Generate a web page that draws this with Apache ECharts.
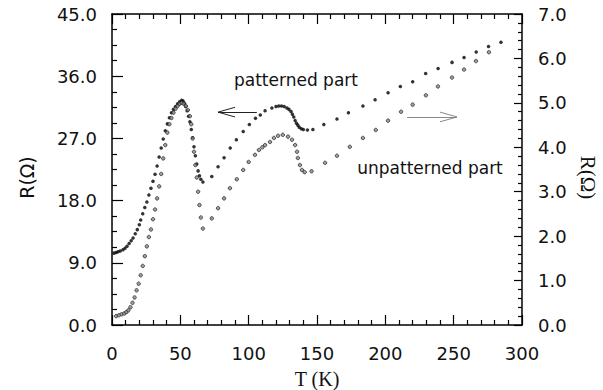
<!DOCTYPE html>
<html>
<head>
<meta charset="utf-8">
<script src="https://cdn.jsdelivr.net/npm/echarts@6/dist/echarts.min.js"></script>
<style>
  html, body { margin: 0; padding: 0; background: #fff; }
  #chart { width: 603px; height: 390px; }
</style>
</head>
<body>
<div id="chart"></div>
<script>
// [T (K), R (ohm)]
// patterned part -> left axis (0..45)
const patterned = [
	[1.5, 10.4], [3, 10.5], [4.4, 10.6], [6, 10.7], [8, 10.9], [9.5, 11.1], [11, 11.4],
	[12.5, 11.8], [14, 12.2], [15.4, 12.6], [17, 13.2], [18.5, 13.8], [20, 14.5], [21, 15.2],
	[22.5, 16.1], [24, 17], [25.5, 17.8], [27, 18.8], [28.5, 19.8], [30, 20.8], [31.5, 21.8],
	[33, 23], [34.5, 24.3], [36, 25.6], [37.5, 26.9], [39, 28.1], [40.5, 29.1], [42, 30],
	[43.5, 30.7], [45, 31.2], [46.5, 31.6], [48, 32], [49.5, 32.3], [51, 32.5], [52, 32.4],
	[53, 32.1], [54, 31.6], [55, 31], [56, 30.2], [57, 29.4], [58, 28.3], [59, 27.1], [60, 25.8],
	[61, 24.5], [62, 23.3], [63, 22.3], [64, 21.6], [65, 21.1], [66.5, 20.7],
	[73, 21.5], [77.6, 22.9], [82, 24.2], [86.5, 25.6], [91, 26.8], [96, 28], [100.5, 29],
	[105, 29.9], [108.5, 30.4], [112, 31], [117, 31.4], [120, 31.6], [122, 31.7], [124, 31.7],
	[126, 31.6], [128, 31.4], [129.5, 31.2], [131, 30.9], [132, 30.5], [133, 30.1], [134, 29.6],
	[135, 29.2], [136, 28.9], [137, 28.6], [138.5, 28.4], [140, 28.3], [143, 28.2], [147, 28.3],
	[155, 29], [164.6, 29.8], [173, 30.7], [183.6, 31.7], [192.5, 32.6], [202, 33.6], [211, 34.5],
	[220, 35.2], [229.5, 36.4], [238.6, 37.1], [248.8, 38], [257.6, 38.7], [266.5, 39.5],
	[275.5, 40.3], [284.6, 40.9]
]

// unpatterned part -> right axis (0..7)
const unpatterned = [
	[3, 0.2], [5, 0.22], [7, 0.24], [9, 0.26], [10.5, 0.29], [12, 0.33], [13.5, 0.4], [15, 0.5],
	[16.5, 0.62], [18, 0.78], [19.5, 0.93], [21, 1.12], [22.5, 1.33], [24, 1.55], [25.5, 1.77],
	[27, 1.98], [28.5, 2.15], [30, 2.38], [31.5, 2.6], [33, 2.85], [34.5, 3.12], [36, 3.4],
	[37.5, 3.75], [39, 4.05], [40.5, 4.33], [42, 4.52], [43.5, 4.66], [45, 4.78], [46.5, 4.87],
	[48, 4.93], [49.5, 4.98], [51, 5.0], [52.5, 4.98], [54, 4.93], [55.5, 4.84], [57, 4.7],
	[58, 4.52], [59, 4.2], [60, 3.9], [61, 3.6], [62, 3.32], [63, 3.0], [64, 2.7], [65, 2.42],
	[66.5, 2.17], [73, 2.4], [77.6, 2.63], [82, 2.85], [86.3, 3.08], [91.3, 3.28], [96, 3.49],
	[100, 3.67], [104.6, 3.83], [107.5, 3.94], [110, 4.0], [112, 4.05], [115.6, 4.12],
	[118.5, 4.21], [121.5, 4.26], [125, 4.28], [128.8, 4.24], [131.7, 4.17], [134, 4.05],
	[135.4, 3.9], [136, 3.76], [137.5, 3.6], [139, 3.49], [141, 3.44], [146, 3.46],
	[155.9, 3.65], [164.6, 3.81], [174, 4.01], [183.6, 4.21], [193, 4.39], [202, 4.6],
	[211.5, 4.8], [220, 4.96], [229.7, 5.17], [238.5, 5.37], [248.8, 5.57], [257.6, 5.75],
	[266.3, 5.94], [275.8, 6.14]
]

// annotations, in data coords (T, left-axis R)
const labelPatterned = [134.6, 35.4]
const labelUnpatterned = [232.7, 22.7]
// shaft from tail to tip, plus the two strokes of the open head
const arrowLeft = [[106, 30.8], [77.6, 30.8], [90, 31.5], [90, 30.1]]
const arrowRight = [[215.9, 30.1], [252.4, 30.1], [240, 30.8], [240, 29.4]]

const tickFont = { fontFamily: 'DejaVu Sans', fontSize: 18, color: '#111' }
const axisLine = { show: true, onZero: false, lineStyle: { color: '#000', width: 1.5 } }
const tickLine = { color: '#000', width: 1.2 }

const arrowSegments = (pts, color) => {
	const lineStyle = { color: color, width: 1, type: 'solid' }
	return [
		[{ coord: pts[0], lineStyle }, { coord: pts[1] }],
		[{ coord: pts[1], lineStyle }, { coord: pts[2] }],
		[{ coord: pts[1], lineStyle }, { coord: pts[3] }]
	]
}

const textLabel = (text, coord) => ({
	coord: coord,
	symbol: 'circle',
	symbolSize: 1,
	itemStyle: { color: 'rgba(0,0,0,0)' },
	label: {
		show: true,
		position: 'inside',
		formatter: text,
		fontFamily: 'DejaVu Sans',
		fontSize: 17,
		color: '#111'
	}
})

const chart = echarts.init(document.getElementById('chart'), null, { renderer: 'svg' })

const xBase = {
	type: 'value',
	min: 0,
	max: 300,
	interval: 50,
	axisLine: axisLine,
	axisTick: { show: true, inside: true, length: 10, lineStyle: tickLine },
	minorTick: { show: true, splitNumber: 5, length: 5, lineStyle: tickLine },
	splitLine: { show: false }
}

chart.setOption({
	animation: false,
	grid: { left: 112, right: 81, top: 14, bottom: 65, outerBoundsMode: 'none' },
	xAxis: [
		Object.assign({}, xBase, {
			position: 'bottom',
			axisLabel: Object.assign({ margin: 19 }, tickFont),
			name: 'T (K)',
			nameLocation: 'middle',
			nameGap: 44,
			nameTextStyle: { fontFamily: 'Liberation Serif', fontSize: 20, color: '#111' }
		}),
		Object.assign({}, xBase, {
			position: 'top',
			axisLabel: { show: false }
		})
	],
	yAxis: [
		{
			type: 'value',
			position: 'left',
			min: 0,
			max: 45,
			interval: 9,
			axisLine: axisLine,
			axisTick: { show: true, inside: true, length: 11, lineStyle: tickLine },
			minorTick: { show: true, splitNumber: 4, length: 5, lineStyle: tickLine },
			splitLine: { show: false },
			axisLabel: Object.assign({ margin: 15, formatter: v => v.toFixed(1) }, tickFont),
			name: 'R(Ω)',
			nameLocation: 'middle',
			nameGap: 76,
			nameTextStyle: { fontFamily: 'DejaVu Sans', fontSize: 19, color: '#111', padding: [0, 16, 0, 0] }
		},
		{
			type: 'value',
			position: 'right',
			min: 0,
			max: 7,
			interval: 1,
			axisLine: axisLine,
			axisTick: { show: true, inside: true, length: 8, lineStyle: tickLine },
			minorTick: { show: true, splitNumber: 5, length: 4, lineStyle: tickLine },
			splitLine: { show: false },
			axisLabel: Object.assign({ margin: 16, formatter: v => v.toFixed(1) }, tickFont),
			name: 'R(Ω)',
			nameLocation: 'middle',
			nameRotate: -90,
			nameGap: 52,
			nameTextStyle: { fontFamily: 'Liberation Serif', fontSize: 21, color: '#111', padding: [0, 0, 0, 16] }
		}
	],
	series: [
		{
			name: 'patterned part',
			type: 'scatter',
			xAxisIndex: 0,
			yAxisIndex: 0,
			data: patterned,
			symbol: 'circle',
			symbolSize: 3.5,
			itemStyle: { color: '#000' },
			markPoint: {
				silent: true,
				animation: false,
				data: [textLabel('patterned part', labelPatterned), textLabel('unpatterned part', labelUnpatterned)]
			},
			markLine: {
				silent: true,
				animation: false,
				symbol: ['none', 'none'],
				label: { show: false },
				data: arrowSegments(arrowLeft, '#222').concat(arrowSegments(arrowRight, '#888'))
			}
		},
		{
			name: 'unpatterned part',
			type: 'scatter',
			xAxisIndex: 0,
			yAxisIndex: 1,
			data: unpatterned,
			symbol: 'circle',
			symbolSize: 3.5,
			itemStyle: { color: '#888', borderColor: '#111', borderWidth: 0.8 }
		}
	]
})
</script>
</body>
</html>
